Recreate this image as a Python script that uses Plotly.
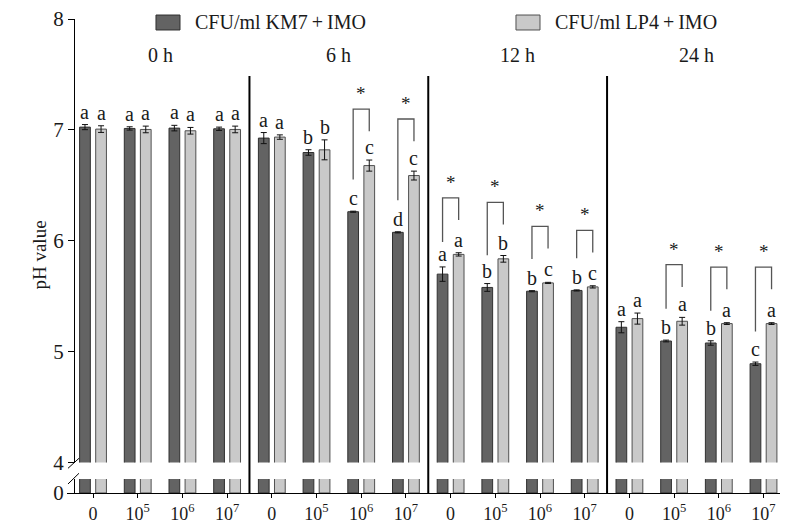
import plotly.graph_objects as go

# ---------------- data ----------------
groups = ["0 h", "6 h", "12 h", "24 h"]
doses = ["0", "10<sup>5</sup>", "10<sup>6</sup>", "10<sup>7</sup>"]
series_names = ["CFU/ml KM7\u2009+\u2009IMO", "CFU/ml LP4\u2009+\u2009IMO"]

km7_ph = [7.025, 7.013, 7.016, 7.010,
          6.926, 6.796, 6.262, 6.076,
          5.699, 5.579, 5.545, 5.552,
          5.220, 5.096, 5.078, 4.891]
km7_err = [0.023, 0.015, 0.025, 0.015,
           0.05, 0.025, 0.005, 0.005,
           0.065, 0.035, 0.005, 0.005,
           0.05, 0.008, 0.02, 0.015]
lp4_ph = [7.007, 7.004, 6.992, 7.004,
          6.935, 6.820, 6.678, 6.588,
          5.877, 5.837, 5.620, 5.584,
          5.298, 5.274, 5.253, 5.253]
lp4_err = [0.03, 0.03, 0.03, 0.03,
           0.02, 0.09, 0.05, 0.04,
           0.015, 0.03, 0.005, 0.01,
           0.05, 0.035, 0.008, 0.008]
km7_letters = ["a", "a", "a", "a", "a", "b", "c", "d",
               "a", "b", "b", "b", "a", "b", "b", "c"]
lp4_letters = ["a", "a", "a", "a", "a", "b", "c", "c",
               "a", "b", "c", "c", "a", "a", "a", "a"]
significant = [False, False, False, False, False, False, True, True,
               True, True, True, True, False, True, True, True]

# ---------------- styling ----------------
FONT = "Liberation Serif"
DARK_FILL, DARK_LINE = "#636363", "#303030"
LIGHT_FILL, LIGHT_LINE = "#c9c9c9", "#505050"
TXT = "#1a1a1a"

n_groups = len(groups)
n_dose = len(doses)
xs = list(range(n_groups * n_dose))
ticktext = doses * n_groups
OFF = 0.18

fig = go.Figure()
for yax, show_err in (("y", True), ("y2", False)):
    fig.add_trace(go.Bar(
        x=xs, y=km7_ph, name=series_names[0], yaxis=yax, xaxis="x",
        marker=dict(color=DARK_FILL, line=dict(color=DARK_LINE, width=1)),
        error_y=dict(type="data", array=km7_err, visible=show_err,
                     color="#111111", thickness=1, width=3),
        showlegend=False,
    ))
    fig.add_trace(go.Bar(
        x=xs, y=lp4_ph, name=series_names[1], yaxis=yax, xaxis="x",
        marker=dict(color=LIGHT_FILL, line=dict(color=LIGHT_LINE, width=1)),
        error_y=dict(type="data", array=lp4_err, visible=show_err,
                     color="#111111", thickness=1, width=3),
        showlegend=False,
    ))

shapes = []
annotations = []

# letters above bars
for i in xs:
    annotations.append(dict(x=i - OFF, y=km7_ph[i] + km7_err[i], xref="x", yref="y",
                            text=km7_letters[i], showarrow=False, yanchor="bottom",
                            font=dict(family=FONT, size=20, color=TXT)))
    annotations.append(dict(x=i + OFF, y=lp4_ph[i] + lp4_err[i], xref="x", yref="y",
                            text=lp4_letters[i], showarrow=False, yanchor="bottom",
                            font=dict(family=FONT, size=20, color=TXT)))

# significance brackets
for i in xs:
    if not significant[i]:
        continue
    yl = km7_ph[i] + 0.29
    yr = lp4_ph[i] + 0.31
    yt = max(yl, yr) + 0.2
    xl, xr = i - OFF, i + OFF
    shapes.append(dict(type="path", xref="x", yref="y",
                       path=f"M {xl},{yl} L {xl},{yt} L {xr},{yt} L {xr},{yr}",
                       line=dict(color="#555555", width=1.3)))
    annotations.append(dict(x=i, y=yt, xref="x", yref="y", text="*", showarrow=False,
                            yanchor="bottom", yshift=3,
                            font=dict(family=FONT, size=19, color=TXT)))

# group separators and titles
for g in range(n_groups):
    center = g * n_dose + (n_dose - 1) / 2
    annotations.append(dict(x=center, y=0.924, xref="x", yref="paper", text=groups[g],
                            showarrow=False, yanchor="middle",
                            font=dict(family=FONT, size=20, color=TXT)))
    if g > 0:
        sx = g * n_dose - 0.5
        shapes.append(dict(type="line", xref="x", yref="paper", x0=sx, x1=sx,
                           y0=0, y1=0.8797, line=dict(color="black", width=2)))

# axis break slashes
for (x0, y0, x1, y1) in ((0.0014, 0.0521, 0.0168, 0.0732),
                         (0.0014, 0.0190, 0.0168, 0.0416)):
    shapes.append(dict(type="line", xref="paper", yref="paper", x0=x0, y0=y0,
                       x1=x1, y1=y1, line=dict(color="black", width=1)))

# legend (drawn)
for (bx0, bx1, tx, fill, line, name) in (
        (0.1248, 0.1585, 0.1763, DARK_FILL, DARK_LINE, series_names[0]),
        (0.6297, 0.6634, 0.6812, LIGHT_FILL, LIGHT_LINE, series_names[1])):
    shapes.append(dict(type="rect", xref="paper", yref="paper", x0=bx0, x1=bx1,
                       y0=0.9768, y1=1.0084, fillcolor=fill,
                       line=dict(color=line, width=1)))
    annotations.append(dict(x=tx, y=0.9937, xref="paper", yref="paper", text=name,
                            showarrow=False, xanchor="left", yanchor="middle",
                            font=dict(family=FONT, size=20, color=TXT)))

# y-axis title
annotations.append(dict(x=-0.0561, y=0.502, xref="paper", yref="paper", text="pH value",
                        textangle=-90, showarrow=False,
                        font=dict(family=FONT, size=19, color=TXT)))

YPOS = 0.00982
fig.update_layout(
    width=787, height=524,
    margin=dict(l=67, r=7, t=19, b=31),
    paper_bgcolor="white", plot_bgcolor="white",
    barmode="group", bargap=0.28, bargroupgap=0.333,
    font=dict(family=FONT, color=TXT),
    xaxis=dict(range=[-0.582, 15.369], tickmode="array", tickvals=xs, ticktext=ticktext,
               ticks="outside", ticklen=4, tickcolor="black", showline=True,
               linecolor="black", linewidth=1.2, showgrid=False, zeroline=False,
               anchor="y2", automargin=False,
               tickfont=dict(family=FONT, size=18, color=TXT)),
    yaxis=dict(domain=[0.0643, 1], range=[4, 8], tickvals=[4, 5, 6, 7, 8],
               ticks="outside", ticklen=6, tickcolor="black", showline=True,
               linecolor="black", linewidth=1.2, showgrid=False, zeroline=False,
               anchor="free", position=YPOS, automargin=False,
               tickfont=dict(family=FONT, size=21, color=TXT)),
    yaxis2=dict(domain=[0, 0.0295], range=[0, 0.5], tickvals=[0],
                ticks="outside", ticklen=6, tickcolor="rgba(0,0,0,0)", showline=True,
                linecolor="black", linewidth=1.2, showgrid=False, zeroline=False,
                anchor="free", position=YPOS, automargin=False,
                tickfont=dict(family=FONT, size=21, color=TXT)),
    shapes=shapes,
    annotations=annotations,
)

fig.write_html("out.html")
